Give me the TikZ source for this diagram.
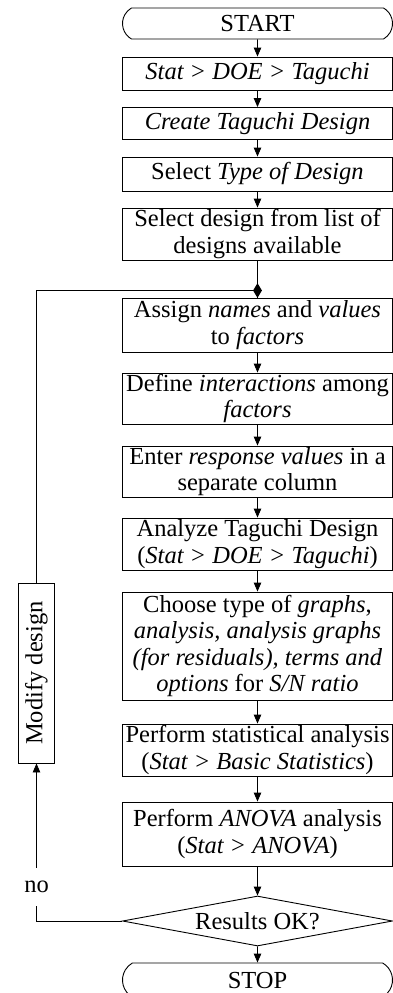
\documentclass[tikz,border=0pt]{standalone}
\usepackage{fontspec}
\setmainfont{Liberation Serif}
\usetikzlibrary{arrows.meta,shapes.geometric,shapes.misc}
\begin{document}
\begin{tikzpicture}[x=1pt,y=-1pt,
  every node/.style={font=\fontsize{24.5}{26.5}\selectfont},
  box/.style={draw,line width=0.9pt,align=center,inner sep=0pt,minimum width=270pt},
  term/.style={draw,line width=0.9pt,rounded rectangle,rounded rectangle arc length=120,inner sep=0pt,minimum width=270pt},
  arr/.style={line width=0.9pt,-{Triangle[length=9pt,width=7.5pt]}},
  ln/.style={line width=0.9pt}]
\useasboundingbox (0,0) rectangle (393,993);
\clip (0,0) rectangle (393,993);
\node[term,minimum height=31pt] (start) at (257.5,23.5) {START};
\node[box,minimum height=33pt] (b1) at (257.5,73.5) {\textit{Stat > DOE > Taguchi}};
\node[box,minimum height=32pt] (b2) at (257.5,123.5) {\textit{Create Taguchi Design}};
\node[box,minimum height=34pt] (b3) at (257.5,174) {Select \textit{Type of Design}};
\node[box,minimum height=52pt] (b4) at (257.5,234) {Select design from list of\\designs available};
\node[box,minimum height=54pt] (b5) at (257.5,325) {Assign \textit{names} and \textit{values}\\to \textit{factors}};
\node[box,minimum height=51pt] (b6) at (257.5,398.5) {Define \textit{interactions} among\\\textit{factors}};
\node[box,minimum height=51pt] (b7) at (257.5,471.5) {Enter \textit{response values} in a\\separate column};
\node[box,minimum height=52pt] (b8) at (257.5,544) {Analyze Taguchi Design\\(\textit{Stat > DOE > Taguchi})};
\node[box,minimum height=108pt] (b9) at (257.5,646) {Choose type of \textit{graphs},\\\textit{analysis, analysis graphs}\\\textit{(for residuals), terms and}\\\textit{options} for \textit{S/N ratio}};
\node[box,minimum height=52pt] (b10) at (257.5,750) {Perform statistical analysis\\(\textit{Stat > Basic Statistics})};
\node[box,minimum height=64pt] (b11) at (257.5,834) {Perform \textit{ANOVA} analysis\\(\textit{Stat > ANOVA})};
\node[draw,line width=0.9pt,diamond,aspect=5.4,inner sep=0pt,minimum width=270pt,minimum height=50pt] (dec) at (257.5,921) {Results OK?};
\node[term,minimum height=34pt] (stop) at (257.5,980) {STOP};
\node[draw,line width=0.9pt,rotate=90,inner sep=0pt,minimum width=180pt,minimum height=36pt] (mod) at (36.5,673) {Modify design};
\coordinate (j) at (257.5,290.5);
\draw[arr] (start) -- (b1);
\draw[arr] (b1) -- (b2);
\draw[arr] (b2) -- (b3);
\draw[arr] (b3) -- (b4);
\draw[ln] (b4) -- (b5);
\draw[arr] (b5) -- (b6);
\draw[arr] (b6) -- (b7);
\draw[arr] (b7) -- (b8);
\draw[arr] (b8) -- (b9);
\draw[arr] (b9) -- (b10);
\draw[arr] (b10) -- (b11);
\draw[arr] (b11) -- (dec);
\draw[arr] (dec) -- (stop);
\draw[arr] (dec.west) -| (mod.west);
\draw[ln] (mod.east) |- (j);
\node[diamond,fill,inner sep=0pt,minimum width=9pt,minimum height=15pt] (jd) at (j) {};
\node[fill=white,inner xsep=0pt,minimum height=38pt] (no) at (36.5,887) {no};
\end{tikzpicture}
\end{document}
